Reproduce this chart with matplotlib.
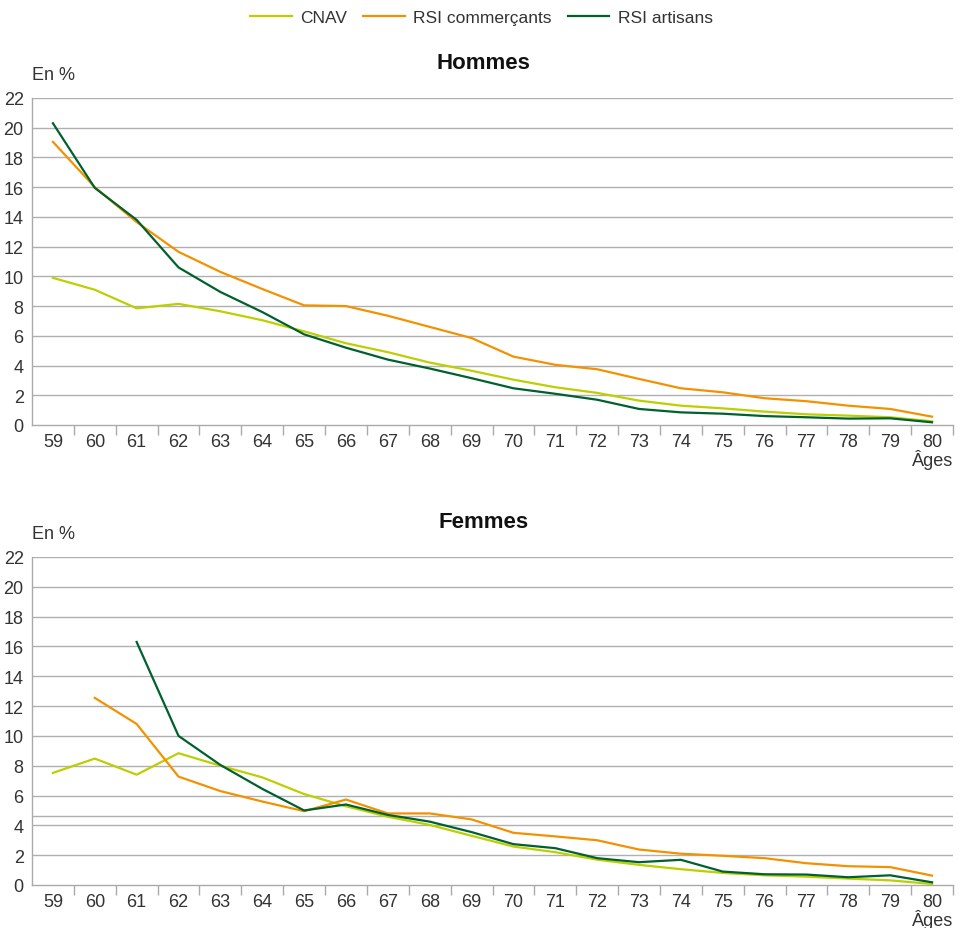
import matplotlib
matplotlib.use("Agg")
import matplotlib.pyplot as plt
import numpy as np
from matplotlib import font_manager

ages = [str(a) for a in range(59, 81)]

h_cnav = [9.9, 9.1, 7.85, 8.15, 7.65, 7.05, 6.3, 5.5, 4.9, 4.2, 3.65,
          3.05, 2.54, 2.16, 1.64, 1.3, 1.12, 0.9, 0.72, 0.63, 0.52, 0.25]
h_comm = [19.05, 16.0, 13.65, 11.65, 10.3, 9.15, 8.05, 8.0, 7.35, 6.6, 5.85,
          4.6, 4.05, 3.75, 3.1, 2.47, 2.2, 1.8, 1.6, 1.3, 1.08, 0.56]
h_art = [20.3, 15.95, 13.8, 10.6, 8.95, 7.6, 6.1, 5.2, 4.4, 3.8, 3.15,
         2.47, 2.1, 1.7, 1.08, 0.85, 0.76, 0.6, 0.52, 0.43, 0.45, 0.18]

f_cnav = [7.52, 8.48, 7.4, 8.84, 8.0, 7.22, 6.1, 5.28, 4.58, 4.03, 3.3,
          2.58, 2.2, 1.7, 1.35, 1.06, 0.81, 0.65, 0.56, 0.43, 0.31, 0.07]
f_comm = [None, 12.55, 10.8, 7.27, 6.3, 5.6, 4.95, 5.73, 4.8, 4.8, 4.4,
          3.5, 3.26, 3.0, 2.38, 2.1, 1.96, 1.8, 1.46, 1.26, 1.2, 0.63]
f_art = [None, None, 16.3, 10.0, 8.05, 6.45, 5.0, 5.4, 4.7, 4.25, 3.55,
         2.74, 2.47, 1.8, 1.53, 1.69, 0.9, 0.72, 0.7, 0.52, 0.65, 0.18]

series_names = ["CNAV", "RSI commerçants", "RSI artisans"]
colors = ["#bdcf00", "#f39200", "#00612e"]
yticks = list(range(0, 23, 2))

avail = {f.name for f in font_manager.fontManager.ttflist}
fam = "Liberation Sans Narrow" if "Liberation Sans Narrow" in avail else "Liberation Sans"
plt.rcParams["font.family"] = [fam, "DejaVu Sans"]

fig = plt.figure(figsize=(9.63, 9.29), dpi=100)
W, H = 963, 929

def make_ax(top_px, bottom_px):
    left, right = 32, 953
    return fig.add_axes([left / W, (H - bottom_px) / H, (right - left) / W, (bottom_px - top_px) / H])

def to_arr(v):
    return np.array([np.nan if x is None else x for x in v], dtype=float)

def draw(ax, data, title, extra_grid=None):
    x = np.arange(len(ages))
    for vals, c, n in zip(data, colors, series_names):
        ax.plot(x, to_arr(vals), color=c, lw=1.6, label=n, zorder=3)
    ax.set_xlim(-0.5, len(ages) - 0.5)
    ax.set_ylim(0, 22)
    ax.set_yticks(yticks)
    ax.set_yticklabels([str(t) for t in yticks])
    ax.set_xticks(x)
    ax.set_xticklabels(ages)
    ax.set_xticks(np.arange(0.5, len(ages) + 0.5, 1.0), minor=True)
    ax.tick_params(axis="x", which="major", length=0, pad=6, labelsize=13, labelcolor="#333333")
    ax.tick_params(axis="x", which="minor", length=7, width=1, color="#aaaaaa", direction="out")
    ax.tick_params(axis="y", length=0, pad=6, labelsize=13, labelcolor="#333333")
    for yv in yticks[1:]:
        ax.axhline(yv, color="#b0b0b0", lw=1, zorder=1)
    if extra_grid is not None:
        ax.axhline(extra_grid, color="#b0b0b0", lw=1, zorder=1)
    for s in ["top", "right"]:
        ax.spines[s].set_visible(False)
    for s in ["left", "bottom"]:
        ax.spines[s].set_color("#aaaaaa")
        ax.spines[s].set_linewidth(1)
    ax.annotate("En %", xy=(0, 1), xycoords="axes fraction", xytext=(0, 11),
                textcoords="offset points", ha="left", va="bottom", fontsize=13, color="#333333")
    ax.annotate("Âges", xy=(1, 0), xycoords="axes fraction", xytext=(0, -17),
                textcoords="offset points", ha="right", va="top", fontsize=13, color="#333333")
    ax.annotate(title, xy=(0.49, 1), xycoords="axes fraction", xytext=(0, 18),
                textcoords="offset points", ha="center", va="bottom", fontsize=16,
                fontweight="bold", color="#111111")

ax1 = make_ax(99, 426)
draw(ax1, [h_cnav, h_comm, h_art], "Hommes")
ax2 = make_ax(558, 886)
draw(ax2, [f_cnav, f_comm, f_art], "Femmes", extra_grid=4.6)

handles, labels = ax1.get_legend_handles_labels()
fig.legend(handles, labels, loc="center", bbox_to_anchor=(0.5, 1 - 18 / H), ncol=3,
           frameon=False, fontsize=12.5, handlelength=2.4, handletextpad=0.5,
           columnspacing=0.9, labelcolor="#333333")

fig.savefig("out.png", dpi=100)
